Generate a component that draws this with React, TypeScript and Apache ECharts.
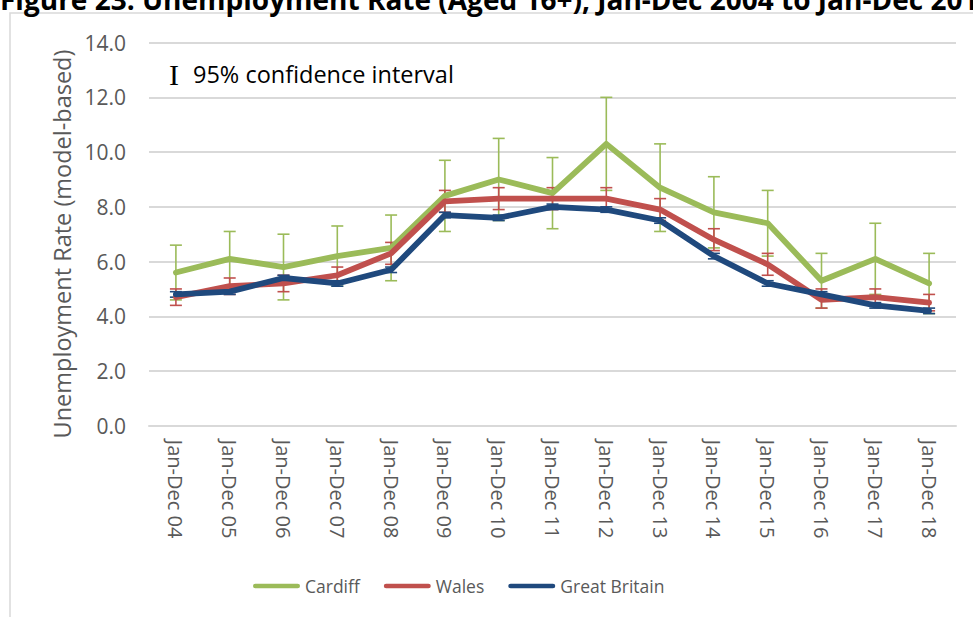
import React, { useEffect, useRef } from "react";
import * as echarts from "echarts";

// Period labels (Jan–Dec of each year)
const periods = [
  "Jan-Dec 04", "Jan-Dec 05", "Jan-Dec 06", "Jan-Dec 07", "Jan-Dec 08",
  "Jan-Dec 09", "Jan-Dec 10", "Jan-Dec 11", "Jan-Dec 12", "Jan-Dec 13",
  "Jan-Dec 14", "Jan-Dec 15", "Jan-Dec 16", "Jan-Dec 17", "Jan-Dec 18",
];

// Unemployment rate, model-based (%)
const cardiff = [5.6, 6.1, 5.8, 6.2, 6.5, 8.4, 9.0, 8.5, 10.3, 8.7, 7.8, 7.4, 5.3, 6.1, 5.2];
const wales = [4.7, 5.1, 5.2, 5.5, 6.3, 8.2, 8.3, 8.3, 8.3, 7.9, 6.8, 5.9, 4.6, 4.7, 4.5];
const greatBritain = [4.8, 4.9, 5.4, 5.2, 5.7, 7.7, 7.6, 8.0, 7.9, 7.5, 6.2, 5.2, 4.8, 4.4, 4.2];

// 95% confidence interval bounds
const cardiffLow = [4.6, 5.1, 4.6, 5.1, 5.3, 7.1, 7.5, 7.2, 8.6, 7.1, 6.5, 6.2, 4.3, 4.8, 4.1];
const cardiffHigh = [6.6, 7.1, 7.0, 7.3, 7.7, 9.7, 10.5, 9.8, 12.0, 10.3, 9.1, 8.6, 6.3, 7.4, 6.3];
const walesLow = [4.4, 4.8, 4.9, 5.2, 5.9, 7.8, 7.9, 7.9, 7.9, 7.5, 6.4, 5.5, 4.3, 4.4, 4.2];
const walesHigh = [5.0, 5.4, 5.5, 5.8, 6.7, 8.6, 8.7, 8.7, 8.7, 8.3, 7.2, 6.3, 5.0, 5.0, 4.8];
const gbLow = [4.7, 4.8, 5.3, 5.1, 5.6, 7.6, 7.5, 7.9, 7.8, 7.4, 6.1, 5.1, 4.7, 4.3, 4.1];
const gbHigh = [4.9, 5.0, 5.5, 5.3, 5.8, 7.8, 7.7, 8.1, 8.0, 7.6, 6.3, 5.3, 4.9, 4.5, 4.3];

const yTicks = { min: 0, max: 14, interval: 2 };

const GREEN = "#9BBB59";
const RED = "#C0504D";
const BLUE = "#1F497D";
const GREY_TEXT = "#595959";
const GRID_GREY = "#d9d9d9";
const FONT = "'Open Sans', sans-serif";

function errorBarSeries(name: string, low: number[], high: number[], color: string) {
  return {
    name,
    type: "custom",
    data: low.map((l, i) => [i, l, high[i]]),
    renderItem: (_params: any, api: any) => {
      const i = api.value(0);
      const lo = api.coord([i, api.value(1)]);
      const hi = api.coord([i, api.value(2)]);
      const half = 6;
      const style = { stroke: color, lineWidth: 1.6 };
      return {
        type: "group",
        children: [
          { type: "line", shape: { x1: lo[0], y1: lo[1], x2: hi[0], y2: hi[1] }, style },
          { type: "line", shape: { x1: hi[0] - half, y1: hi[1], x2: hi[0] + half, y2: hi[1] }, style },
          { type: "line", shape: { x1: lo[0] - half, y1: lo[1], x2: lo[0] + half, y2: lo[1] }, style },
        ],
      };
    },
    z: 3,
  };
}

function lineSeries(name: string, data: number[], color: string) {
  return {
    name,
    type: "line",
    data,
    symbol: "none",
    color,
    lineStyle: { color, width: 5.8, cap: "round", join: "round" },
    z: 3,
  };
}

const capsule = "path://M2.5,0 H47.5 A2.5,2.5 0 0 1 47.5,5 H2.5 A2.5,2.5 0 0 1 2.5,0 Z";

export default function App() {
  const ref = useRef<HTMLDivElement>(null);

  useEffect(() => {
    if (!ref.current) return;
    const chart = echarts.init(ref.current, undefined, { renderer: "svg" });
    chart.setOption({
      animation: false,
      backgroundColor: "#ffffff",
      grid: { left: 149, right: 17, top: 42.6, bottom: 191.2 },
      legend: {
        data: ["Cardiff", "Wales", "Great Britain"],
        left: 253,
        top: 577,
        padding: 0,
        icon: capsule,
        itemWidth: 47,
        itemHeight: 5,
        itemGap: 24,
        textStyle: { color: GREY_TEXT, fontSize: 17.5, fontFamily: FONT },
      },
      xAxis: {
        type: "category",
        data: periods,
        boundaryGap: true,
        axisLine: { show: true, lineStyle: { color: GRID_GREY, width: 2 } },
        axisTick: { show: false },
        axisLabel: {
          rotate: -90,
          margin: 14,
          color: GREY_TEXT,
          fontSize: 20,
          fontFamily: FONT,
        },
      },
      yAxis: {
        type: "value",
        min: yTicks.min,
        max: yTicks.max,
        interval: yTicks.interval,
        axisLine: { show: false },
        axisTick: { show: false },
        axisLabel: {
          margin: 23,
          color: GREY_TEXT,
          fontSize: 21,
          fontFamily: FONT,
          formatter: (v: number) => v.toFixed(1),
        },
        splitLine: { lineStyle: { color: GRID_GREY, width: 2 } },
      },
      graphic: [
        {
          type: "rect",
          shape: { x: 10, y: 13, width: 1000, height: 700 },
          style: { fill: "none", stroke: GRID_GREY, lineWidth: 1.5 },
          silent: true,
        },
        {
          type: "text",
          x: 0,
          y: -1,
          style: {
            text: "Figure 23: Unemployment Rate (Aged 16+), Jan-Dec 2004 to Jan-Dec 2018",
            fill: "#000000",
            font: `bold 28px ${FONT}`,
            verticalAlign: "middle",
          },
        },
        {
          type: "text",
          x: 62,
          y: 244,
          rotation: Math.PI / 2,
          style: {
            text: "Unemployment Rate (model-based)",
            fill: GREY_TEXT,
            font: `23.5px ${FONT}`,
            align: "center",
            verticalAlign: "middle",
          },
        },
        {
          type: "text",
          x: 169,
          y: 74,
          style: {
            text: "I",
            fill: "#000000",
            font: "30px 'Liberation Serif', serif",
            verticalAlign: "middle",
          },
        },
        {
          type: "text",
          x: 193,
          y: 74,
          style: {
            text: "95% confidence interval",
            fill: "#000000",
            font: `23.5px ${FONT}`,
            verticalAlign: "middle",
          },
        },
      ],
      series: [
        lineSeries("Cardiff", cardiff, GREEN),
        errorBarSeries("Cardiff 95% CI", cardiffLow, cardiffHigh, GREEN),
        lineSeries("Wales", wales, RED),
        errorBarSeries("Wales 95% CI", walesLow, walesHigh, RED),
        lineSeries("Great Britain", greatBritain, BLUE),
        errorBarSeries("Great Britain 95% CI", gbLow, gbHigh, BLUE),
      ],
    });
    return () => chart.dispose();
  }, []);

  return (
    <div
      ref={ref}
      style={{ position: "absolute", left: 0, top: 0, width: 973, height: 617 }}
    />
  );
}
